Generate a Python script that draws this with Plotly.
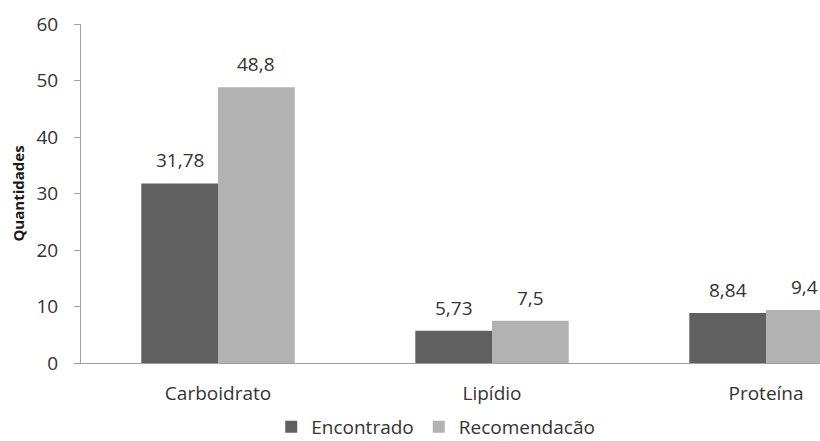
import plotly.graph_objects as go

categories = ["Carboidrato", "Lipídio", "Proteína"]
encontrado = [31.78, 5.73, 8.84]
recomendacao = [48.8, 7.5, 9.4]
y_ticks = [0, 10, 20, 30, 40, 50, 60]

FONT = "Open Sans, DejaVu Sans, sans-serif"
TXT = "#333333"
BARGAP = 0.44


def pt_br(v):
    # decimal comma, no trailing zeros
    return f"{v:g}".replace(".", ",")


fig = go.Figure()
fig.add_trace(go.Bar(
    x=categories, y=encontrado, name="Encontrado",
    marker=dict(color="#606060", line=dict(width=0)),
))
fig.add_trace(go.Bar(
    x=categories, y=recomendacao, name="Recomendacão",
    marker=dict(color="#b2b2b2", line=dict(width=0)),
))

# value labels above each bar (bar centres sit a quarter of the group width
# either side of the category centre)
half = (1 - BARGAP) / 4
for i, cat in enumerate(categories):
    for vals, dx in ((encontrado, -half), (recomendacao, half)):
        fig.add_annotation(
            x=i + dx, y=vals[i], xref="x", yref="y",
            text=pt_br(vals[i]), showarrow=False,
            yanchor="bottom", xanchor="center", yshift=8,
            font=dict(family=FONT, size=19, color=TXT),
        )

fig.update_layout(
    width=820, height=441,
    margin=dict(l=81, r=0, t=24, b=78, autoexpand=False),
    paper_bgcolor="white", plot_bgcolor="white",
    barmode="group", bargap=BARGAP, bargroupgap=0,
    font=dict(family=FONT, size=19, color=TXT),
    showlegend=True,
    legend=dict(
        orientation="h", x=0.48, xanchor="center",
        yref="container", y=0.032, yanchor="middle",
        font=dict(family=FONT, size=19, color=TXT),
        itemwidth=30, tracegroupgap=0,
    ),
    xaxis=dict(
        range=[-0.5, 2.197],
        showline=True, linecolor="#a0a0a0", linewidth=1,
        ticks="", showgrid=False, zeroline=False,
        ticklabelstandoff=13,
        tickfont=dict(family=FONT, size=19, color=TXT),
    ),
    yaxis=dict(
        range=[0, 60], tickvals=y_ticks,
        showline=True, linecolor="#a0a0a0", linewidth=1,
        ticks="outside", ticklen=6, tickcolor="#a0a0a0",
        ticklabelstandoff=12,
        showgrid=False, zeroline=False,
        tickfont=dict(family=FONT, size=19, color=TXT),
        title=dict(text="<b>Quantidades</b>", standoff=8,
                   font=dict(family=FONT, size=15, color="#1a1a1a")),
    ),
)

fig.write_html("out.html")
